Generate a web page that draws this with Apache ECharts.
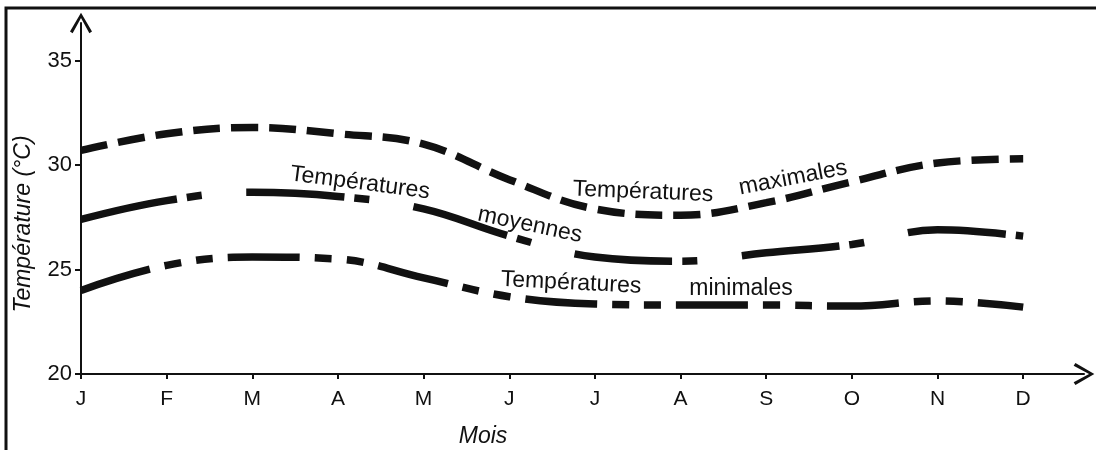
<!DOCTYPE html>
<html>
<head>
<meta charset="utf-8">
<script src="https://cdn.jsdelivr.net/npm/echarts@6/dist/echarts.min.js"></script>
<style>
  html, body { margin: 0; padding: 0; background: #fff; }
  #container { width: 1096px; height: 450px; }
</style>
</head>
<body>
<div id="container"></div>
<script>
let chart = echarts.init(document.getElementById('container'));

// mois (index 0..11 sur l'axe)
var months = ['J', 'F', 'M', 'A', 'M', 'J', 'J', 'A', 'S', 'O', 'N', 'D'];
var yTicks = [20, 25, 30, 35];

// temperatures
var tMax = [30.7, 31.5, 31.8, 31.5, 31.0, 29.3, 27.9, 27.6, 28.2, 29.2, 30.1, 30.3];
var tMoy = [27.4, 28.3, 28.7, 28.5, 27.9, 26.6, 25.6, 25.4, 25.8, 26.2, 26.9, 26.6];
var tMin = [24.0, 25.2, 25.6, 25.5, 24.6, 23.7, 23.35, 23.3, 23.3, 23.25, 23.5, 23.2];

var font = '"Liberation Sans", Arial, sans-serif';
// fleche ouverte (chevron)
var chevron = 'path://M50,0 L100,86 L88,94 L50,24 L12,94 L0,86 Z';

function pairs(values) {
    return values.map((v, i) => [i, v]);
}

function lineSerie(name, values, dash) {
    return {
        name: name,
        type: 'line',
        data: pairs(values),
        smooth: 0.4,
        showSymbol: false,
        animation: false,
        lineStyle: {
            color: '#111',
            width: 7.5,
            type: dash,
            cap: 'butt'
        }
    };
}

function label(text, x, y, rot) {
    return {
        type: 'text',
        x: x,
        y: y,
        rotation: rot,
        style: {
            text: text,
            fill: '#111',
            font: '23px ' + font,
            align: 'center',
            verticalAlign: 'middle'
        }
    };
}

var option = {
    backgroundColor: '#fff',
    grid: {
        left: 81,
        right: 12,
        top: 23,
        bottom: 76,
        containLabel: false
    },
    xAxis: {
        type: 'value',
        min: 0,
        max: 11.71,
        splitLine: { show: false },
        axisLine: {
            show: true,
            symbol: ['none', chevron],
            symbolSize: [22, 22],
            lineStyle: { color: '#111', width: 2 }
        },
        axisTick: {
            show: true,
            length: 5,
            customValues: months.map((m, i) => i),
            lineStyle: { color: '#111', width: 2 }
        },
        axisLabel: {
            customValues: months.map((m, i) => i),
            formatter: v => months[v],
            color: '#111',
            fontSize: 21,
            fontFamily: font,
            margin: 15
        }
    },
    yAxis: {
        type: 'value',
        min: 20,
        max: 36.8,
        splitLine: { show: false },
        axisLine: {
            show: true,
            symbol: ['none', chevron],
            symbolSize: [22, 22],
            lineStyle: { color: '#111', width: 2 }
        },
        axisTick: {
            show: true,
            length: 6,
            customValues: yTicks,
            lineStyle: { color: '#111', width: 2 }
        },
        axisLabel: {
            customValues: yTicks,
            color: '#111',
            fontSize: 22,
            fontFamily: font,
            margin: 9
        }
    },
    series: [
        lineSerie('Températures maximales', tMax, [27, 11]),
        lineSerie('Températures moyennes', tMoy, [98, 10, 15, 45]),
        lineSerie('Températures minimales', tMin, [72, 15, 17, 15, 17, 15])
    ],
    graphic: [
        {
            type: 'rect',
            shape: { x: 6, y: 8, width: 1100, height: 460 },
            style: { fill: 'none', stroke: '#111', lineWidth: 3 }
        },
        {
            type: 'text',
            x: 24,
            y: 224,
            rotation: Math.PI / 2,
            style: {
                text: 'Température (°C)',
                fill: '#111',
                font: 'italic 23px ' + font,
                align: 'center',
                verticalAlign: 'middle'
            }
        },
        {
            type: 'text',
            x: 483,
            y: 437,
            style: {
                text: 'Mois',
                fill: '#111',
                font: 'italic 23px ' + font,
                align: 'center',
                verticalAlign: 'middle'
            }
        },
        label('Températures', 360, 183, -0.13),
        label('moyennes', 530, 225, -0.21),
        label('Températures', 643, 192, -0.04),
        label('maximales', 793, 178, 0.19),
        label('Températures', 571, 283, -0.05),
        label('minimales', 741, 289, 0)
    ]
};

chart.setOption(option);
</script>
</body>
</html>
